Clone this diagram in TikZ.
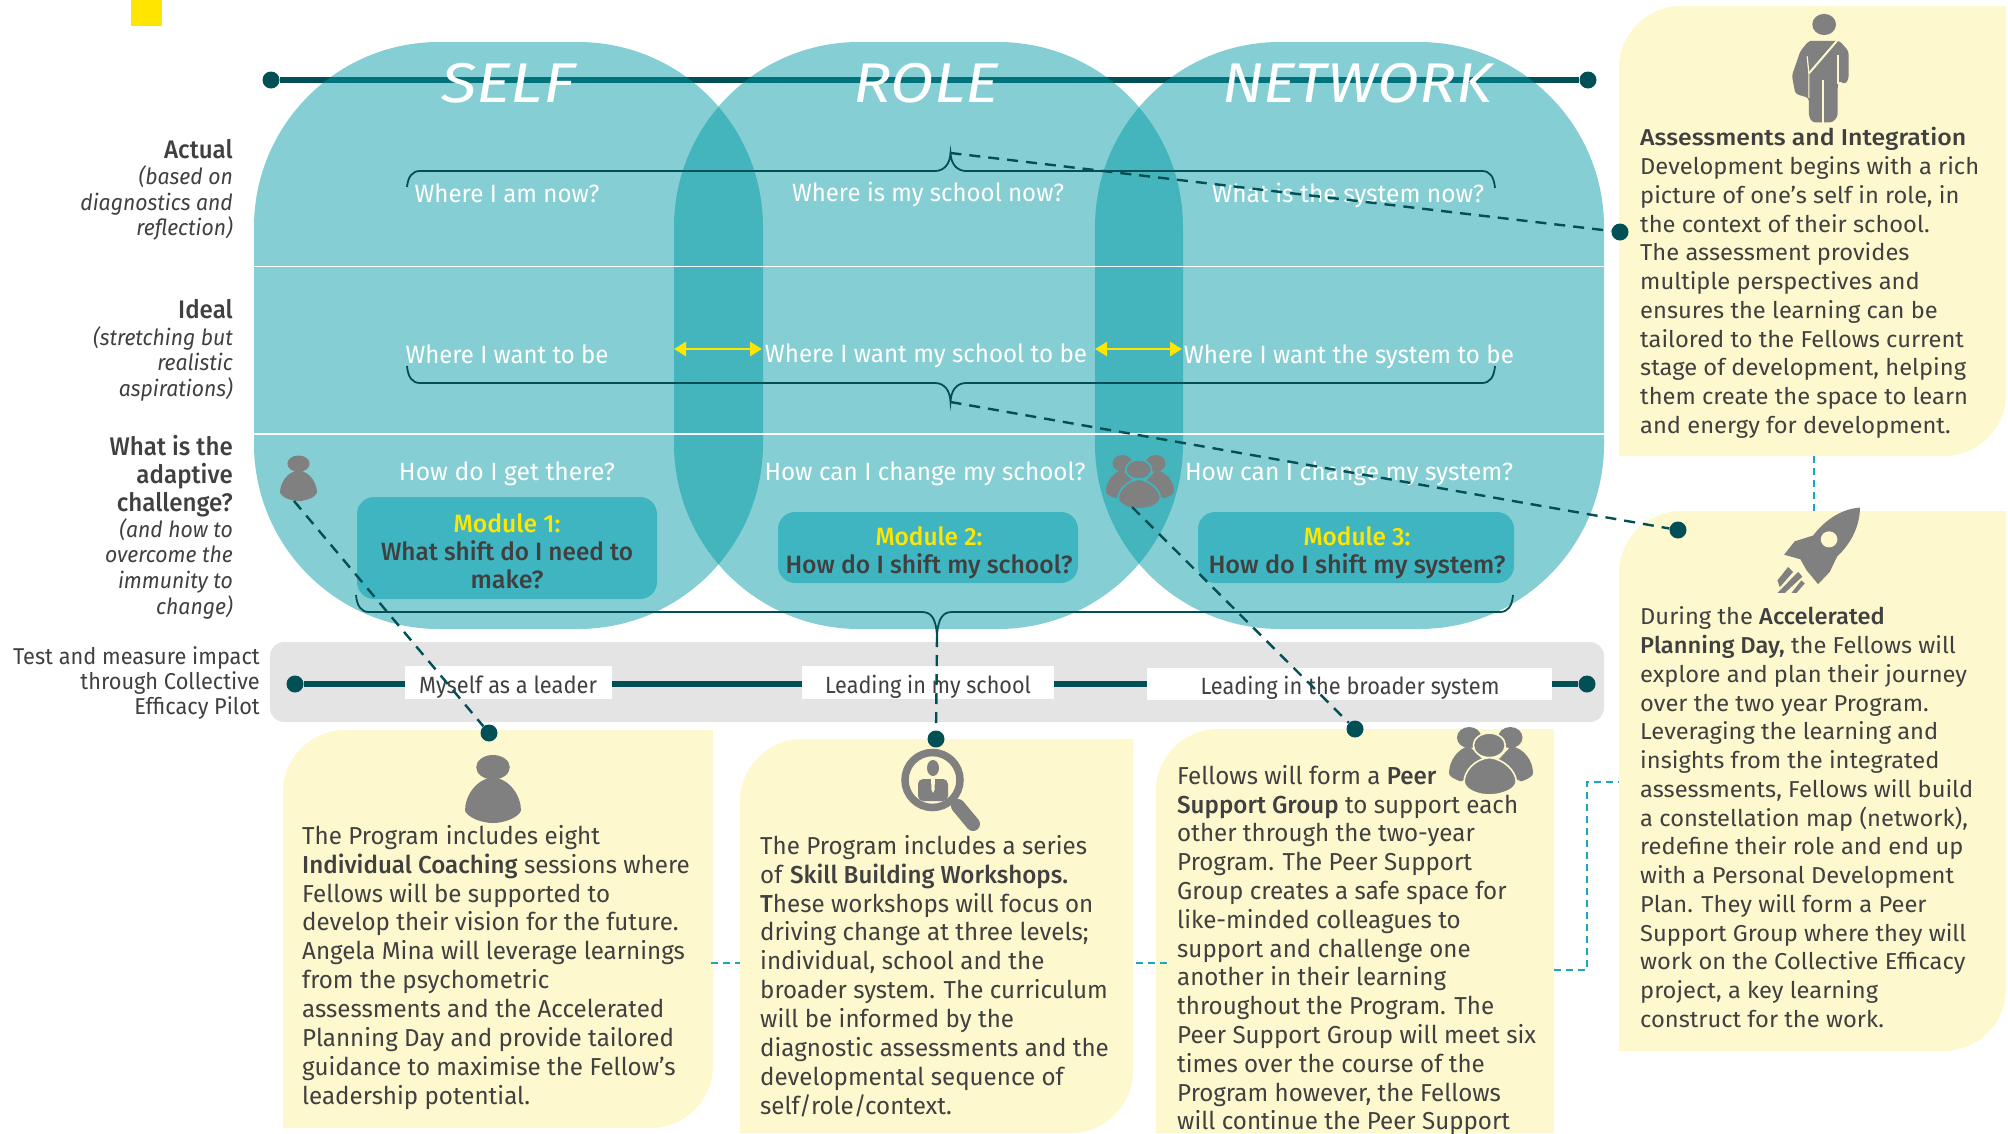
\documentclass[tikz,border=0pt]{standalone}
\usepackage{fontspec}
\usepackage{graphicx}
\usetikzlibrary{arrows.meta}
\setmainfont{Fira Sans}[BoldFont={Fira Sans Medium},ItalicFont={Fira Sans Italic}]
\newfontfamily\narrowf{Fira Sans}[FakeStretch=.95,BoldFont={Fira Sans Medium},ItalicFont={Fira Sans Italic}]
\newfontfamily\bodyf{Fira Sans}[FakeStretch=.985,BoldFont={Fira Sans Medium},ItalicFont={Fira Sans Italic}]
\newfontfamily\widef{Fira Sans}[FakeStretch=1.03,BoldFont={Fira Sans Medium},ItalicFont={Fira Sans Italic}]
\definecolor{tealblob}{RGB}{0,153,165}
\definecolor{modfill}{RGB}{62,181,192}
\definecolor{darkteal}{RGB}{0,80,85}
\definecolor{ybox}{RGB}{253,248,205}
\definecolor{bargray}{RGB}{228,228,228}
\definecolor{icongray}{RGB}{128,128,128}
\definecolor{txtgray}{RGB}{64,64,64}
\definecolor{eyyellow}{RGB}{255,230,0}
\definecolor{thindash}{RGB}{26,167,189}
\newcommand\fitw[2]{\resizebox{#1pt}{\height}{#2}}
\newcommand\topr{\rule{0pt}{20pt}}
\newcommand\yboxpath[6]{% x0 y0 x1 y1 rTL rBR
  \fill[ybox] ({#1},{#2+#5}) .. controls ({#1},{#2+.45*#5}) and ({#1+.45*#5},{#2}) .. ({#1+#5},{#2})
    -- ({#3},{#2}) -- ({#3},{#4-#6}) .. controls ({#3},{#4-.45*#6}) and ({#3-.45*#6},{#4}) .. ({#3-#6},{#4})
    -- ({#1},{#4}) -- cycle;}
\newcommand\personicon[4]{% x0 y0 w h
  \begin{scope}[shift={(#1,#2)},x=#3pt,y=-#4pt]
    \fill[icongray] (.5,.18) ellipse [x radius=.3, y radius=.18];
    \fill[icongray] (.5,.33) .. controls (.2,.35) and (0,.6) .. (0,.82) .. controls (.05,.92) and (.3,1) .. (.5,1)
      .. controls (.7,1) and (.95,.92) .. (1,.82) .. controls (1,.6) and (.8,.35) .. (.5,.33) -- cycle;
  \end{scope}}
\newcommand\groupicon[5]{% x0 y0 w h outline
  \begin{scope}[shift={(#1,#2)},x=#3pt,y=-#4pt]
    \fill[icongray] (.24,.155) ellipse [x radius=.145, y radius=.155];
    \fill[icongray] (.73,.155) ellipse [x radius=.145, y radius=.155];
    \fill[icongray] (.24,.28) .. controls (.1,.32) and (0,.5) .. (0,.68) .. controls (0,.72) and (.05,.76) .. (.14,.8) -- (.5,.6) -- cycle;
    \fill[icongray] (.74,.28) .. controls (.9,.32) and (1,.5) .. (1,.68) .. controls (1,.72) and (.95,.76) .. (.86,.8) -- (.5,.6) -- cycle;
    \filldraw[fill=icongray,draw=#5,line width=1.6pt] (.48,.27) ellipse [x radius=.19, y radius=.18];
    \filldraw[fill=icongray,draw=#5,line width=1.6pt] (.48,.45) .. controls (.3,.47) and (.18,.66) .. (.18,.8) .. controls (.18,.92) and (.34,1) .. (.48,1)
      .. controls (.62,1) and (.8,.92) .. (.8,.8) .. controls (.8,.66) and (.66,.47) .. (.48,.45) -- cycle;
  \end{scope}}
\tikzset{
  blob/.style={fill=tealblob,fill opacity=.48,rounded corners=185pt},
  qtext/.style={anchor=base,inner sep=0,text=white,font=\narrowf\fontsize{25}{28}\selectfont},
  headtext/.style={anchor=base,inner sep=0,text=white,font=\fontsize{56}{60}\selectfont\itshape},
  modbox/.style={fill=modfill,rounded corners=17pt},
  modhead/.style={anchor=base,inner sep=0,text=eyyellow,font=\narrowf\fontsize{25}{28}\selectfont\bfseries},
  modtext/.style={anchor=base,inner sep=0,text=txtgray,font=\narrowf\fontsize{25}{28}\selectfont\bfseries},
  bigdot/.style={circle,fill=darkteal,inner sep=0,minimum size=17pt},
  linkdash/.style={draw=darkteal,line width=2.4pt,dash pattern=on 11pt off 8pt},
  thinlink/.style={draw=thindash,line width=1.6pt,dash pattern=on 7pt off 5pt},
  bracepath/.style={draw=darkteal,line width=1.8pt},
  thickline/.style={draw=darkteal,line width=6.5pt},
  yarrow/.style={draw=eyyellow,line width=2.5pt,{Triangle[length=12pt,width=14pt]}-{Triangle[length=12pt,width=14pt]}},
  sidelab/.style={anchor=north east,inner sep=0,align=right,text=txtgray},
  sidehead/.style={anchor=base east,inner sep=0,text=txtgray,font=\narrowf\fontsize{25.4}{28}\selectfont\bfseries},
  para/.style={anchor=north west,inner sep=0,align=left,text=txtgray},
  barlab/.style={anchor=base,inner sep=0,text=txtgray,font=\narrowf\fontsize{23.5}{26}\selectfont},
}
\begin{document}
\begin{tikzpicture}[x=1pt,y=-1pt]
\useasboundingbox (0,0) rectangle (2008,1133);
\fill[eyyellow] (131,0) rectangle (162,26);

% header line
\node[bigdot] (topL) at (271,80) {};
\node[bigdot] (topR) at (1588,80) {};
\draw[thickline] (topL) -- (topR);

% blobs
\fill[blob] (254,42) rectangle (763,629);
\fill[blob] (674,42) rectangle (1183,629);
\fill[blob] (1095,42) rectangle (1604,629);
\draw[white,line width=1pt] (254,266) -- (1604,266);
\draw[white,line width=1.4pt] (254,434) -- (1604,434);

% headings
\node[headtext] (hSelf) at (508,102) {\fitw{134}{SELF}};
\node[headtext] (hRole) at (926,102) {\fitw{146}{ROLE}};
\node[headtext] (hNet) at (1357,102) {\fitw{270}{NETWORK}};

% questions
\node[qtext] (q11) at (507,202) {\fitw{185}{Where I am now?}};
\node[qtext] (q12) at (928,201) {\fitw{272}{Where is my school now?}};
\node[qtext] (q13) at (1348,202) {\fitw{272}{What is the system now?}};
\node[qtext] (q21) at (507,363) {\fitw{203}{Where I want to be}};
\node[qtext] (q22) at (926,362) {\fitw{322}{Where I want my school to be}};
\node[qtext] (q23) at (1349,363) {\fitw{330}{Where I want the system to be}};
\node[qtext] (q31) at (507,480) {\fitw{216}{How do I get there?}};
\node[qtext] (q32) at (925,480) {\fitw{321}{How can I change my school?}};
\node[qtext] (q33) at (1349,480) {\fitw{328}{How can I change my system?}};

% yellow arrows
\coordinate (a1l) at (674,349); \coordinate (a1r) at (762,349);
\coordinate (a2l) at (1095,349); \coordinate (a2r) at (1182,349);
\draw[yarrow] (a1l) -- (a1r);
\draw[yarrow] (a2l) -- (a2r);

% modules
\fill[modbox] (357,497) rectangle (657,599);
\fill[modbox] (778,512) rectangle (1078,583);
\fill[modbox] (1198,512) rectangle (1514,583);
\node[modhead] (m1h) at (507,532) {\fitw{107}{Module 1:}};
\node[modtext] (m1a) at (507,560) {\fitw{252}{What shift do I need to}};
\node[modtext] (m1b) at (507,588) {\fitw{73}{make?}};
\node[modhead] (m2h) at (929,545) {\fitw{107}{Module 2:}};
\node[modtext] (m2a) at (929,573) {\fitw{287}{How do I shift my school?}};
\node[modhead] (m3h) at (1357,545) {\fitw{107}{Module 3:}};
\node[modtext] (m3a) at (1357,573) {\fitw{297}{How do I shift my system?}};

% braces
\coordinate (tipTop) at (950.5,153);
\coordinate (tipMid) at (950.5,402);
\coordinate (tipBot) at (937,636);
\draw[bracepath] (407,187) .. controls (408,177) and (412,171) .. (420,171) -- (935,171)
  .. controls (944,171) and (950,164) .. (tipTop) .. controls (951,164) and (957,171) .. (966,171)
  -- (1482,171) .. controls (1490,171) and (1494,177) .. (1495,188);
\draw[bracepath] (407,366) .. controls (408,377) and (412,383) .. (420,383) -- (935,383)
  .. controls (944,383) and (950,390) .. (tipMid) .. controls (951,390) and (957,383) .. (966,383)
  -- (1482,383) .. controls (1490,383) and (1494,377) .. (1495,366);
\draw[bracepath] (356,595) .. controls (357,606) and (361,612) .. (369,612) -- (922,612)
  .. controls (931,612) and (936,618) .. (tipBot) .. controls (938,618) and (943,612) .. (952,612)
  -- (1500,612) .. controls (1508,612) and (1512,606) .. (1513,595);

% left labels
\node[sidehead] (lA) at (233,158) {Actual};
\node[sidelab,font=\narrowf\fontsize{22.3}{25.4}\selectfont\itshape] (lA2) at (233,164.5) {\topr(based on\\diagnostics and\\reflection)};
\node[sidehead] (lI) at (233,318.5) {Ideal};
\node[sidelab,font=\narrowf\fontsize{22.3}{25.4}\selectfont\itshape] (lI2) at (233,325) {\topr(stretching but\\realistic\\aspirations)};
\node[sidelab,font=\narrowf\fontsize{25.4}{28}\selectfont\bfseries] (lW) at (233,435) {\topr What is the\\adaptive\\challenge?};
\node[sidelab,font=\narrowf\fontsize{22.3}{25.6}\selectfont\itshape] (lW2) at (233,517) {\topr(and how to\\overcome the\\immunity to\\change)};
\node[sidelab,font=\narrowf\fontsize{22.9}{25}\selectfont] (lT) at (260,644) {\topr Test and measure impact\\through Collective\\Efficacy Pilot};

% impact bar
\fill[bargray,rounded corners=14pt] (270,642) rectangle (1604,722);
\node[bigdot] (barL) at (295,684) {};
\node[bigdot] (barR) at (1587,684) {};
\draw[thickline] (barL) -- (barR);
\fill[white] (405,666) rectangle (612,699);
\fill[white] (802,666) rectangle (1054,699);
\fill[white] (1147,668) rectangle (1552,700);
\node[barlab] (b1) at (508,693) {\fitw{178}{Myself as a leader}};
\node[barlab] (b2) at (928,693) {\fitw{206}{Leading in my school}};
\node[barlab] (b3) at (1350,694) {\fitw{299}{Leading in the broader system}};

% yellow boxes
\yboxpath{283}{730}{713}{1128}{62}{62}
\yboxpath{740}{739}{1133}{1133}{62}{62}
\yboxpath{1156}{729}{1554}{1133}{62}{0}
\yboxpath{1619}{6}{2006}{456}{62}{62}
\yboxpath{1619}{511}{2006}{1051}{62}{62}

% paragraphs
\node[para,font=\bodyf\fontsize{24.5}{28.9}\selectfont] (pA) at (302,824) {\topr The Program includes eight\\
\textbf{Individual Coaching} sessions where\\Fellows will be supported to\\develop their vision for the future.\\
Angela Mina will leverage learnings\\from the psychometric\\assessments and the Accelerated\\
Planning Day and provide tailored\\guidance to maximise the Fellow’s\\leadership potential.};
\node[para,font=\bodyf\fontsize{24.5}{28.9}\selectfont] (pB) at (760,834) {\topr The Program includes a series\\
of \textbf{Skill Building Workshops.}\\\textbf{T}hese workshops will focus on\\driving change at three levels;\\
individual, school and the\\broader system. The curriculum\\will be informed by the\\
diagnostic assessments and the\\developmental sequence of\\self/role/context.};
\node[para,font=\bodyf\fontsize{24.5}{28.8}\selectfont] (pC) at (1177,764) {\topr Fellows will form a \textbf{Peer}\\
\textbf{Support Group} to support each\\other through the two-year\\Program. The Peer Support\\
Group creates a safe space for\\like-minded colleagues to\\support and challenge one\\
another in their learning\\throughout the Program. The\\Peer Support Group will meet six\\
times over the course of the\\Program however, the Fellows\\will continue the Peer Support};
\node[para,font=\widef\fontsize{23}{28.75}\selectfont] (pD) at (1640,125.7) {\topr\textbf{\fitw{326}{Assessments and Integration}}\\
Development begins with a rich\\picture of one’s self in role, in\\the context of their school.\\
The assessment provides\\multiple perspectives and\\ensures the learning can be\\
tailored to the Fellows current\\stage of development, helping\\them create the space to learn\\and energy for development.};
\node[para,font=\widef\fontsize{23}{28.75}\selectfont] (pE) at (1640,604.7) {\topr During the \textbf{Accelerated}\\
\textbf{Planning Day,} the Fellows will\\explore and plan their journey\\over the two year Program.\\
Leveraging the learning and\\insights from the integrated\\assessments, Fellows will build\\
a constellation map (network),\\redefine their role and end up\\with a Personal Development\\
Plan. They will form a Peer\\Support Group where they will\\work on the Collective Efficacy\\
project, a key learning\\construct for the work.};

% icons
\personicon{280}{455.5}{37}{45.5}
\coordinate (icoS) at (294,501);
\groupicon{1106}{455}{68}{54}{modfill}
\coordinate (icoG) at (1132,507);
\personicon{465}{755}{56}{68}
\groupicon{1449}{727}{84}{68}{ybox}

% magnifier
\draw[icongray,line width=14pt,line cap=round] (958,806) -- (973,824);
\filldraw[fill=ybox,draw=icongray,line width=7.5pt] (932.5,780) circle (27.5pt);
\fill[icongray] (933,768) ellipse [x radius=6, y radius=8];
\fill[icongray,rounded corners=5pt] (918,779) rectangle (948,801);
\fill[ybox] (931,778) -- (935,778) -- (934.5,790) -- (933,793) -- (931.5,790) -- cycle;

% standing figure (coordinates read off the enlarged crop)
\begin{scope}[shift={(1597,0)},x=.339pt,y=-.408pt]
  \fill[icongray] (670,60) ellipse [x radius=35, y radius=26];
  \fill[icongray,rounded corners=3pt] (575,185) -- (600,125) -- (625,100) -- (715,100) -- (742,125) -- (742,195) -- (730,207) -- (714,197) -- (710,210)
    -- (710,285) -- (695,300) -- (635,300) -- (625,285) -- (625,240) -- (585,230) -- cycle;
  \draw[ybox,line width=2pt] (625,180) -- (712,96);
  \draw[ybox,line width=1.2pt] (620,138) -- (625,180) -- (625,240);
  \draw[ybox,line width=1.4pt] (667,195) -- (667,302);
  \draw[ybox,line width=1.2pt] (711,135) -- (711,206);
\end{scope}

% rocket (coordinates read off the enlarged crop)
\begin{scope}[shift={(1550,480)},x=.333pt,y=-.383pt]
  \fill[icongray] (931,72) .. controls (880,75) and (830,100) .. (790,145) -- (735,160) -- (703,195) -- (752,207) -- (770,235) -- (805,272) -- (840,240) -- (862,200)
    .. controls (905,165) and (930,120) .. (931,72) -- cycle;
  \fill[ybox] (838,155) ellipse [x radius=25, y radius=21];
  \fill[icongray] (683,262) -- (715,227) -- (730,240) -- (690,280) -- cycle;
  \fill[icongray] (683,295) -- (745,240) -- (758,252) -- (705,295) -- cycle;
  \fill[icongray] (725,295) -- (755,262) -- (765,270) -- (740,295) -- cycle;
\end{scope}

% connector end dots
\node[bigdot] (dD) at (1620,232) {};
\node[bigdot] (dE) at (1678,530) {};
\node[bigdot] (dA) at (489,733) {};
\node[bigdot] (dB) at (936,739) {};
\node[bigdot] (dC) at (1355,729) {};

% dashed leaders
\draw[linkdash] (tipTop) -- (dD);
\draw[linkdash] (tipMid) -- (dE);
\draw[linkdash] (icoS) -- (dA);
\draw[linkdash] (icoG) -- (dC);
\draw[linkdash] (tipBot) -- (dB);

% thin links between boxes
\coordinate (lDb) at (1814,456); \coordinate (lEt) at (1814,511);
\coordinate (lAr) at (711,963); \coordinate (lBl) at (740,963);
\coordinate (lBr) at (1136,963); \coordinate (lCl) at (1172,963);
\coordinate (lCr) at (1554,970); \coordinate (lEl) at (1619,782);
\draw[thinlink] (lDb) -- (lEt);
\draw[thinlink] (lAr) -- (lBl);
\draw[thinlink] (lBr) -- (lCl);
\draw[thinlink] (lCr) -| (1587,782) -- (lEl);
\end{tikzpicture}
\end{document}
